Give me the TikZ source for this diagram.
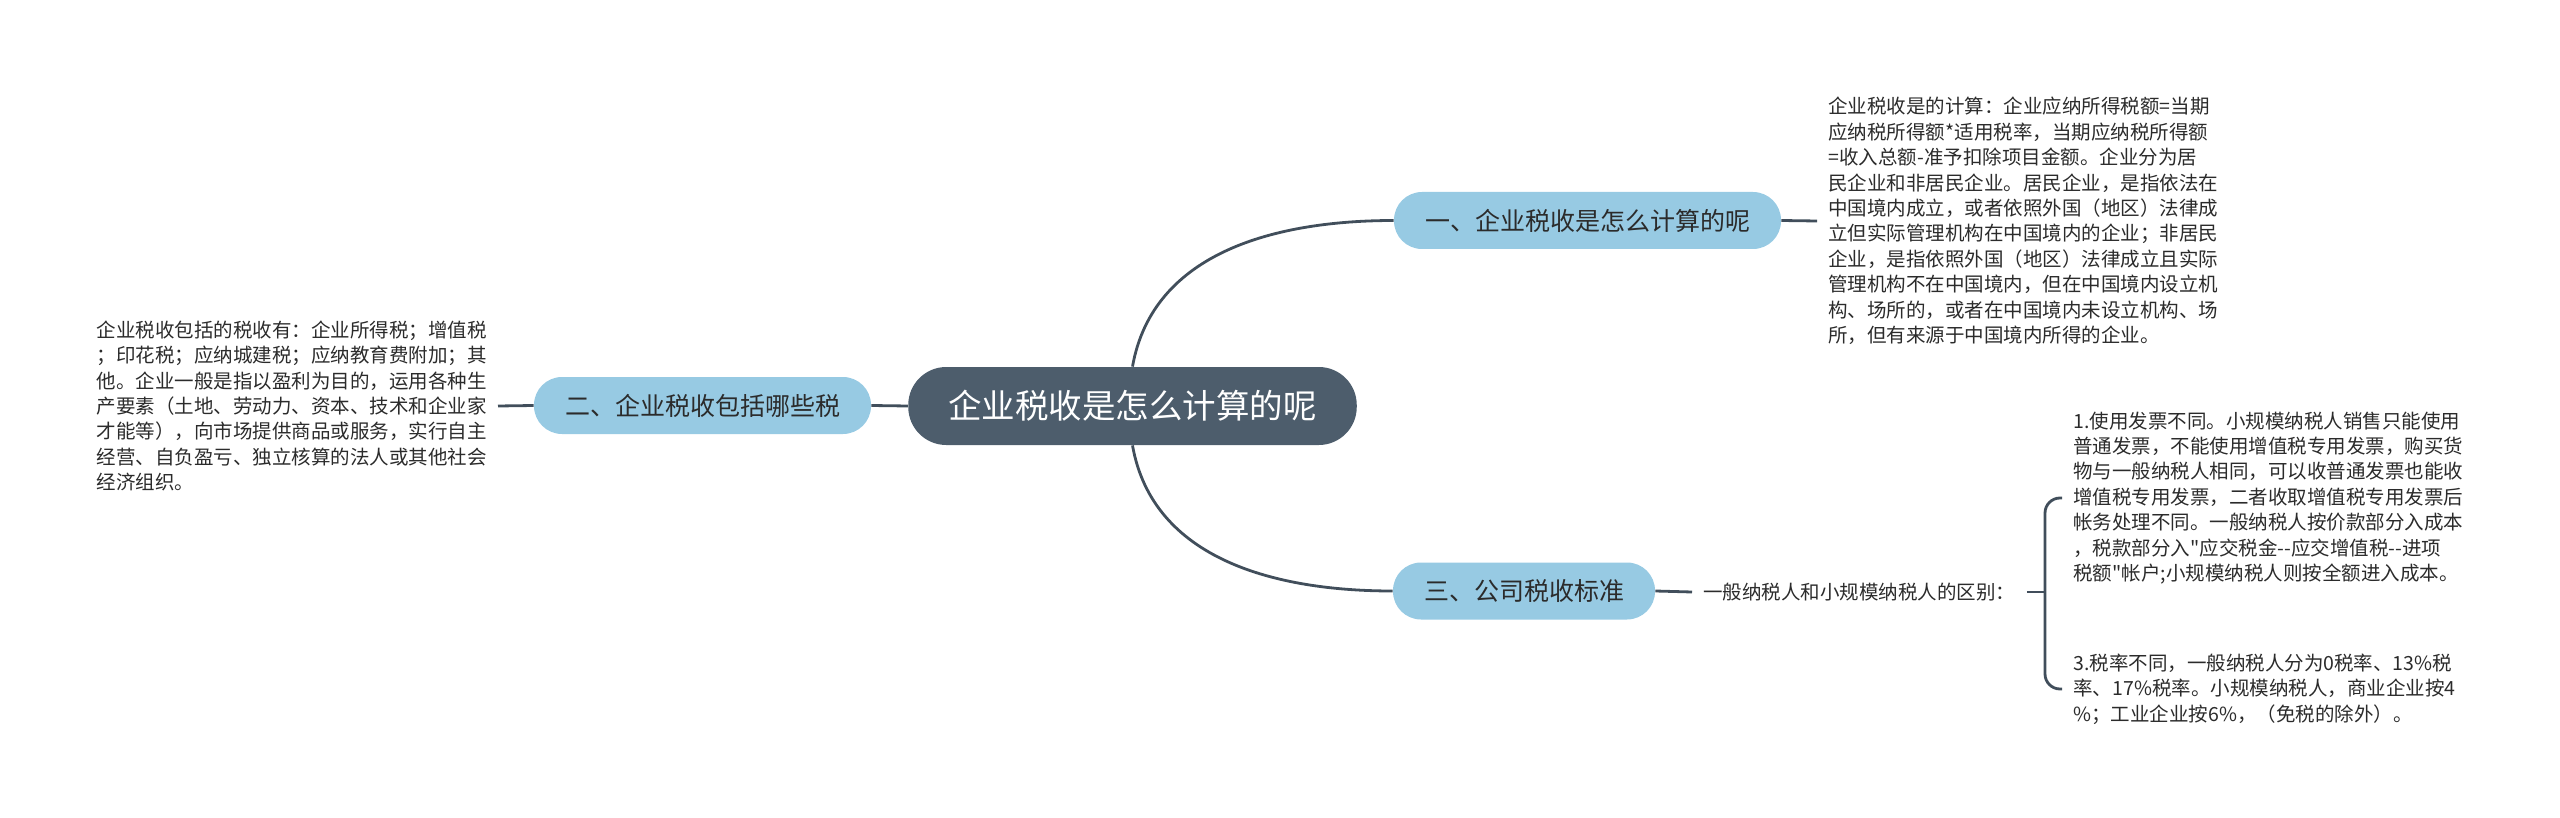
\documentclass[tikz,border=0pt]{standalone}
\usepackage{fontspec}
\newfontfamily\cjk{Noto Sans CJK SC}
\definecolor{fondoraiz}{HTML}{4D5D6C}
\definecolor{fondorama}{HTML}{97CAE3}
\definecolor{linea}{HTML}{414E5B}
\definecolor{texto}{HTML}{2B2B2B}
\begin{document}
\begin{tikzpicture}[x=0.5pt, y=0.5pt,
    raiz/.style={fill=fondoraiz, text=white, rounded corners=19pt, minimum height=39pt,
        inner xsep=20pt, font=\cjk\fontsize{16.75}{20}\selectfont},
    rama/.style={fill=fondorama, text=texto, rounded corners=14pt, minimum height=28.5pt,
        inner xsep=15.5pt, font=\cjk\fontsize{12.5}{15}\selectfont},
    nota/.style={text=texto, align=left, inner xsep=5.5pt, inner ysep=0pt,
        font=\cjk\fontsize{9.75}{12.7}\selectfont},
    conector/.style={draw=linea, line width=1.4pt}]
    \useasboundingbox (0,0) rectangle (2560,-818);

    % Nodo central y ramas
    \node[raiz] (raiz) at (1132.5,-406) {企业税收是怎么计算的呢};
    \node[rama] (r1) at (1587.5,-220.5) {一、企业税收是怎么计算的呢};
    \node[rama] (r2) at (702.5,-405.5) {二、企业税收包括哪些税};
    \node[rama] (r3) at (1524,-591) {三、公司税收标准};

    % Notas de cada rama
    \node[nota, anchor=west] (n1) at (1817,-221) {企业税收是的计算：企业应纳所得税额=当期\\
        应纳税所得额*适用税率，当期应纳税所得额\\
        =收入总额-准予扣除项目金额。企业分为居\\
        民企业和非居民企业。居民企业，是指依法在\\
        中国境内成立，或者依照外国（地区）法律成\\
        立但实际管理机构在中国境内的企业；非居民\\
        企业，是指依照外国（地区）法律成立且实际\\
        管理机构不在中国境内，但在中国境内设立机\\
        构、场所的，或者在中国境内未设立机构、场\\
        所，但有来源于中国境内所得的企业。};
    \node[nota, anchor=east] (n2) at (498,-406) {企业税收包括的税收有：企业所得税；增值税\\
        ；印花税；应纳城建税；应纳教育费附加；其\\
        他。企业一般是指以盈利为目的，运用各种生\\
        产要素（土地、劳动力、资本、技术和企业家\\
        才能等），向市场提供商品或服务，实行自主\\
        经营、自负盈亏、独立核算的法人或其他社会\\
        经济组织。};
    \node[nota, anchor=west] (n3) at (1692,-592) {一般纳税人和小规模纳税人的区别：};
    \coordinate (llave) at (2045,-592);
    \node[nota, anchor=west] (d1) at (2062,-498) {1.使用发票不同。小规模纳税人销售只能使用\\
        普通发票，不能使用增值税专用发票，购买货\\
        物与一般纳税人相同，可以收普通发票也能收\\
        增值税专用发票，二者收取增值税专用发票后\\
        帐务处理不同。一般纳税人按价款部分入成本\\
        ，税款部分入"应交税金{-}{-}应交增值税{-}{-}进项\\
        税额"帐户;小规模纳税人则按全额进入成本。};
    \node[nota, anchor=west] (d3) at (2062,-689) {3.税率不同，一般纳税人分为0税率、13\%税\\
        率、17\%税率。小规模纳税人，商业企业按4\\
        \%；工业企业按6\%，（免税的除外）。};

    % Conectores
    \draw[conector] (raiz.north) to[out=80, in=180] (r1.west);
    \draw[conector] (raiz.south) to[out=-80, in=180] (r3.west);
    \draw[conector] (raiz.west) -- (r2.east);
    \draw[conector] (r1.east) -- (n1.west);
    \draw[conector] (r2.west) -- (n2.east);
    \draw[conector] (r3.east) -- (n3.west);
    \draw[conector] (n3.east) -- (llave);
    \draw[conector, rounded corners=7.5pt] (d1.west) -| (llave) |- (d3.west);
\end{tikzpicture}
\end{document}
